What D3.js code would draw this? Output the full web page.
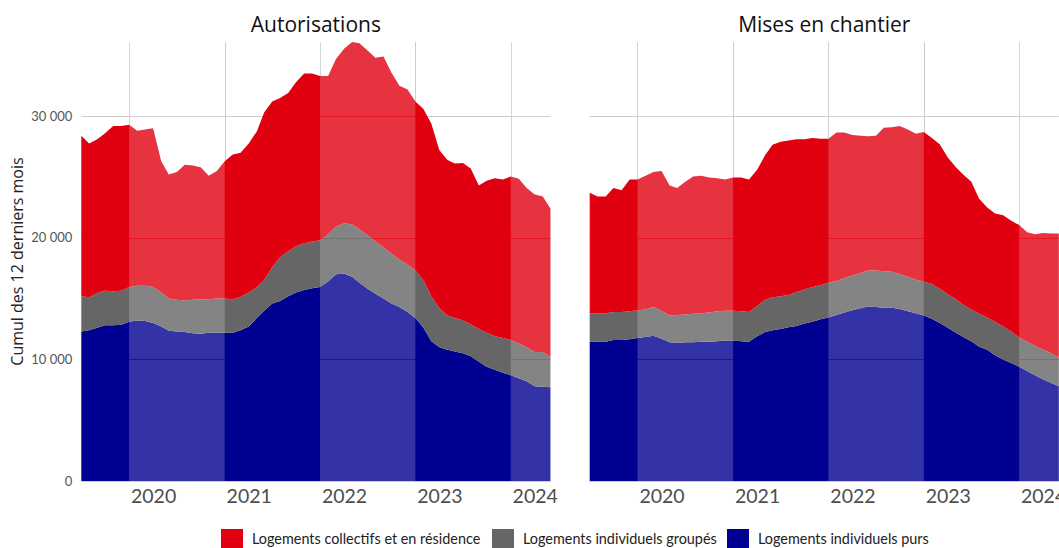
<!DOCTYPE html>
<html><head><meta charset="utf-8">
<script src="https://cdn.jsdelivr.net/npm/d3@7"></script>
<style>body{margin:0;background:#fff;overflow:hidden} svg{display:block}</style>
</head><body><svg id="c" width="1059" height="548"></svg>
<script>
// ---- categories ----
const months = [
 "2019-04","2019-05","2019-06","2019-07","2019-08","2019-09","2019-10","2019-11","2019-12",
 "2020-01","2020-02","2020-03","2020-04","2020-05","2020-06","2020-07","2020-08","2020-09","2020-10","2020-11","2020-12",
 "2021-01","2021-02","2021-03","2021-04","2021-05","2021-06","2021-07","2021-08","2021-09","2021-10","2021-11","2021-12",
 "2022-01","2022-02","2022-03","2022-04","2022-05","2022-06","2022-07","2022-08","2022-09","2022-10","2022-11","2022-12",
 "2023-01","2023-02","2023-03","2023-04","2023-05","2023-06","2023-07","2023-08","2023-09","2023-10","2023-11","2023-12",
 "2024-01","2024-02","2024-03"];
const panelTitles = ["Autorisations", "Mises en chantier"];
const seriesKeys = ["purs", "groupes", "collectifs"];
const seriesLabels = ["Logements individuels purs", "Logements individuels groupés", "Logements collectifs et en résidence"];
const seriesColors = ["#000091", "#666666", "#E1000F"];
const legendOrder = ["collectifs", "groupes", "purs"];

// ---- Autorisations (cumul 12 mois) ----
const autPurs = [12300,12400,12600,12800,12800,12850,13100,13200,13150,13000,12700,12350,12300,12250,12150,12100,12200,12200,12200,12200,
 12400,12700,13400,14000,14600,14800,15200,15500,15700,15850,15950,16400,17000,17050,16800,16300,15800,15400,15000,14600,
 14300,13900,13400,12600,11500,11000,10800,10650,10500,10250,9800,9400,9150,8900,8700,8450,8200,7800,7750,7700];
const autGroupes = [2900,2700,2850,2850,2800,2800,2850,2850,2900,2950,2800,2650,2600,2600,2750,2850,2750,2800,2800,2750,
 2750,2800,2550,2500,3000,3600,3700,3800,3850,3850,3850,3900,3900,4150,4300,4400,4400,4300,4200,4100,
 3900,3900,3900,3900,3700,3200,2800,2750,2700,2650,2700,2800,2750,2850,2900,2850,2800,2800,2850,2500];
const autCollectifs = [13200,12650,12650,12950,13600,13550,13350,12750,12850,13050,10800,10200,10500,11150,11050,10850,10150,10500,11300,11900,
 11850,12250,12800,13800,13600,13100,13000,13500,13950,13800,13500,13000,13800,14350,15000,15300,15200,15100,15700,14900,
 14300,14400,13900,14100,14200,13000,12800,12700,12950,12800,11800,12500,13000,13050,13450,13550,13100,12950,12800,12200];

// ---- Mises en chantier (cumul 12 mois) ----
const mecPurs = [11450,11450,11450,11600,11600,11650,11750,11850,11950,11700,11400,11350,11400,11400,11450,11450,11500,11550,11550,11500,
 11450,11900,12250,12400,12500,12650,12750,12950,13100,13300,13450,13650,13850,14050,14200,14350,14300,14250,14250,14150,
 13950,13800,13600,13350,13000,12600,12200,11850,11500,11050,10800,10350,10000,9700,9400,9050,8700,8350,8050,7800];
const mecGroupes = [2350,2350,2350,2300,2300,2300,2300,2250,2350,2300,2200,2300,2300,2350,2350,2400,2450,2450,2450,2450,
 2450,2500,2650,2700,2700,2650,2800,2800,2850,2800,2850,2800,2850,2850,2900,2950,3000,3000,2950,2850,
 2850,2750,2800,2850,2800,2750,2750,2650,2600,2700,2650,2750,2700,2600,2400,2400,2400,2450,2450,2350];
const mecCollectifs = [9900,9600,9600,10200,10000,10850,10750,11000,11100,11500,10700,10450,10900,11300,11300,11100,10950,10800,10950,11000,
 10900,11200,11900,12550,12700,12700,12550,12350,12250,12050,11850,12200,11950,11550,11300,11050,11100,11800,11900,12200,
 12100,12000,12300,12000,11900,11250,10850,10700,10500,9450,9050,8900,9150,9100,9250,9000,9200,9600,9850,10200];

// ---- axes ----
const yTicks = [0, 10000, 20000, 30000];
const yearLabels = ["2020-01", "2021-01", "2022-01", "2023-01", "2024-01"];
const gridMonths = ["2019-10", "2020-10", "2021-10", "2022-10", "2023-10"];
const shadedStarts = ["2019-10", "2021-10", "2023-10"];
const yTitle = "Cumul des 12 derniers mois";

// ---------------------------------------------------------------
const parse = d3.timeParse("%Y-%m");
const dates = months.map(parse);
const fmt = d3.formatLocale({decimal: ",", thousands: " ", grouping: [3], currency: ["", " €"]}).format(",");

function table(purs, groupes, collectifs) {
  return dates.map((d, i) => ({date: d, purs: purs[i], groupes: groupes[i], collectifs: collectifs[i]}));
}
const panelData = [table(autPurs, autGroupes, autCollectifs), table(mecPurs, mecGroupes, mecCollectifs)];

const svg = d3.select("#c");
const FONT = "Lato, 'Open Sans', sans-serif";
const FONT_WIDE = "'Open Sans', Lato, sans-serif";
const plotTop = 42, plotBottom = 481;
const y = d3.scaleLinear().domain([0, 36100]).range([plotBottom, plotTop]);
const panelRanges = [[81.3, 550.4], [589.7, 1058.8]];
const xDomain = [dates[0], dates[dates.length - 1]];
const stack = d3.stack().keys(seriesKeys);
const color = d3.scaleOrdinal().domain(seriesKeys).range(seriesColors);

panelData.forEach((data, p) => {
  const x = d3.scaleTime().domain(xDomain).range(panelRanges[p]);
  const g = svg.append("g");
  const [x0, x1] = panelRanges[p];

  // grid lines (beneath)
  g.selectAll(".hg").data(yTicks).join("line")
    .attr("x1", x0).attr("x2", x1)
    .attr("y1", d => Math.round(y(d)) + 0.5).attr("y2", d => Math.round(y(d)) + 0.5)
    .attr("stroke", "#cccccc").attr("stroke-width", 1);
  g.selectAll(".vg").data(gridMonths.map(parse)).join("line")
    .attr("x1", d => Math.round(x(d)) + 0.5).attr("x2", d => Math.round(x(d)) + 0.5)
    .attr("y1", plotTop).attr("y2", plotBottom)
    .attr("stroke", "#cccccc").attr("stroke-width", 1);

  // stacked areas
  const series = stack(data);
  const area = d3.area().x(d => x(d.data.date)).y0(d => y(d[0])).y1(d => y(d[1]));
  g.selectAll(".area").data(series).join("path")
    .attr("d", area).attr("fill", d => color(d.key));

  // alternating year shading (white veil), with a thin gap at each horizontal grid line
  const inner = yTicks.slice(1).map(v => Math.round(y(v)) + 0.5);
  const bounds = [plotBottom, ...inner, plotTop];
  shadedStarts.map(parse).forEach(s => {
    const e = d3.timeMonth.offset(s, 12);
    const xs = x(s), xe = Math.min(x(e), x1);
    for (let k = 0; k < bounds.length - 1; k++) {
      const yb = k === 0 ? bounds[k] : bounds[k] - 0.25;
      const yt = k + 1 === bounds.length - 1 ? bounds[k + 1] : bounds[k + 1] + 0.25;
      g.append("rect").attr("x", xs).attr("width", xe - xs)
        .attr("y", yt).attr("height", Math.max(0, yb - yt))
        .attr("fill", "#fff").attr("fill-opacity", 0.2);
    }
  });

  // baseline
  g.append("line").attr("x1", x0).attr("x2", x1)
    .attr("y1", plotBottom + 0.5).attr("y2", plotBottom + 0.5)
    .attr("stroke", "#c9c9e6").attr("stroke-width", 1);

  // title
  g.append("text").attr("x", (x0 + x1) / 2).attr("y", 32)
    .attr("text-anchor", "middle").attr("font-family", FONT_WIDE)
    .attr("font-size", 21).attr("fill", "#111").text(panelTitles[p]);

  // x axis labels
  const xa = d3.axisBottom(x).tickValues(yearLabels.map(parse))
    .tickFormat(d3.timeFormat("%Y")).tickSize(0).tickPadding(8);
  const ax = g.append("g").attr("transform", `translate(0,${plotBottom})`).call(xa);
  ax.select(".domain").remove();
  ax.selectAll("text").attr("font-family", FONT).attr("font-size", 19.5).attr("fill", "#4d4d4d");

  // y axis labels (left panel only)
  if (p === 0) {
    const ya = d3.axisLeft(y).tickValues(yTicks).tickFormat(fmt).tickSize(0).tickPadding(9);
    const ay = g.append("g").attr("transform", `translate(${x0},0)`).call(ya);
    ay.select(".domain").remove();
    ay.selectAll("text").attr("font-family", FONT).attr("font-size", 13).attr("fill", "#555");
  }
});

// y title
svg.append("text").attr("transform", `translate(23,${(plotTop + plotBottom) / 2}) rotate(-90)`)
  .attr("text-anchor", "middle").attr("font-family", FONT_WIDE).attr("font-size", 16)
  .attr("fill", "#222").text(yTitle);

// legend
const legendX = [221, 492, 727];
const lg = svg.append("g");
legendOrder.forEach((k, i) => {
  const idx = seriesKeys.indexOf(k);
  lg.append("rect").attr("x", legendX[i]).attr("y", 529).attr("width", 22).attr("height", 20)
    .attr("fill", seriesColors[idx]);
  lg.append("text").attr("x", legendX[i] + 31).attr("y", 544)
    .attr("font-family", FONT).attr("font-size", 14.4).attr("fill", "#222").text(seriesLabels[idx]);
});
</script>
</body></html>
